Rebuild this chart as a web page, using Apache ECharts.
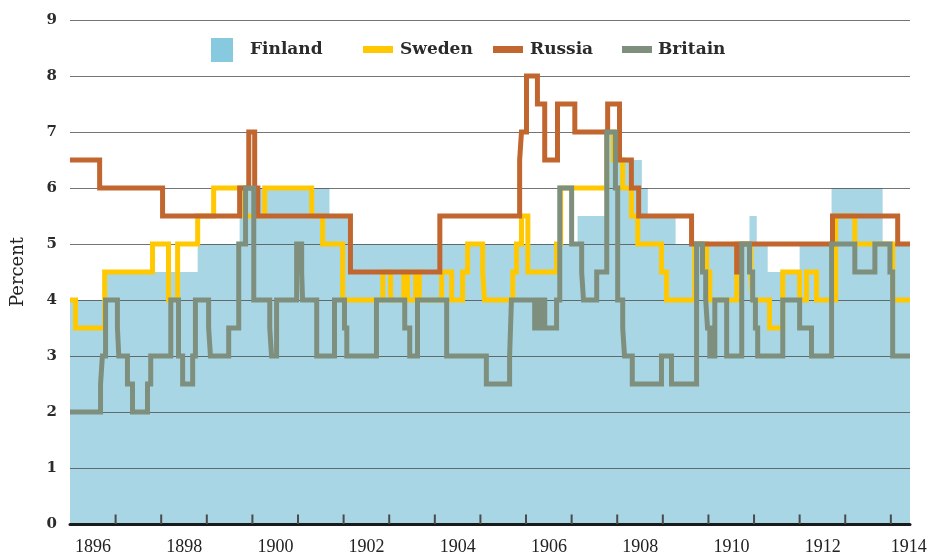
<!DOCTYPE html>
<html>
<head>
<meta charset="utf-8">
<script src="https://cdn.jsdelivr.net/npm/echarts@6/dist/echarts.min.js"></script>
<style>
  html, body { margin: 0; padding: 0; background: #fff; }
  #main { width: 931px; height: 560px; }
</style>
</head>
<body>
<div id="main"></div>
<script>
// central bank rates, [year, percent] at each change (step holds until next point)
var finland = [[1896,4.0],[1896.76,4.5],[1898.80,5.0],[1899.72,6.0],[1901.69,5.5],[1902.18,5.0],
  [1907.13,5.5],[1907.77,7.0],[1907.99,6.5],[1908.54,6.0],[1908.67,5.5],[1909.28,5.0],
  [1910.90,5.5],[1911.06,5.0],[1911.30,4.5],[1912.00,5.0],[1912.70,6.0],[1913.82,5.0],[1914.42,5.0]];

var sweden = [[1896,4.0],[1896.12,3.5],[1896.76,4.5],[1897.81,5.0],[1898.16,4.0],[1898.36,5.0],
  [1898.80,5.5],[1899.15,6.0],[1899.83,5.5],[1900.27,6.0],[1901.30,5.5],[1901.54,5.0],[1901.98,4.0],
  [1902.86,4.5],[1903.03,4.0],[1903.32,4.5],[1903.40,4.0],[1903.58,4.5],[1903.66,4.0],[1904.15,4.5],
  [1904.37,4.0],[1904.61,4.5],[1904.72,5.0],[1905.05,4.5],[1905.09,4.0],[1905.71,4.5],[1905.79,5.0],
  [1905.90,5.5],[1906.04,4.5],[1906.67,5.0],[1906.76,6.0],[1907.77,7.0],[1907.92,6.5],[1908.12,6.0],
  [1908.31,5.5],[1908.45,5.0],[1908.97,4.5],[1909.08,4.0],[1909.70,5.0],[1909.96,4.5],[1910.03,4.0],
  [1910.62,5.0],[1910.93,4.5],[1910.97,4.0],[1911.34,3.5],[1911.63,4.5],[1912.00,4.0],[1912.15,4.5],
  [1912.37,4.0],[1912.79,5.5],[1913.21,5.0],[1914.04,4.0],[1914.42,4.0]];

var russia = [[1896,6.5],[1896.65,6.0],[1898.03,5.5],[1899.72,6.0],[1899.92,7.0],[1900.05,6.0],
  [1900.12,5.5],[1902.15,4.5],[1904.11,5.5],[1905.86,6.5],[1905.90,7.0],[1906.01,8.0],[1906.25,7.5],
  [1906.41,6.5],[1906.69,7.5],[1907.07,7.0],[1907.79,7.5],[1908.05,6.5],[1908.31,6.0],[1908.47,5.5],
  [1909.63,5.0],[1910.62,4.5],[1910.68,5.0],[1912.72,5.5],[1914.15,5.0],[1914.42,5.0]];

var britain = [[1896,2.0],[1896.67,2.5],[1896.71,3.0],[1896.78,4.0],[1897.04,3.5],[1897.07,3.0],
  [1897.26,2.5],[1897.37,2.0],[1897.70,2.5],[1897.77,3.0],[1898.21,4.0],[1898.38,3.0],[1898.47,2.5],
  [1898.69,3.0],[1898.75,4.0],[1899.04,3.5],[1899.08,3.0],[1899.48,3.5],[1899.70,5.0],[1899.85,6.0],
  [1900.03,4.0],[1900.38,3.5],[1900.42,3.0],[1900.53,4.0],[1900.97,5.0],[1901.08,4.5],[1901.10,4.0],
  [1901.41,3.0],[1901.80,4.0],[1902.02,3.5],[1902.07,3.0],[1902.72,4.0],[1903.34,3.5],[1903.45,3.0],
  [1903.62,4.0],[1904.26,3.0],[1905.13,2.5],[1905.64,3.0],[1905.68,4.0],[1906.19,3.5],[1906.30,4.0],
  [1906.41,3.5],[1906.67,4.0],[1906.74,6.0],[1907.00,5.0],[1907.22,4.5],[1907.26,4.0],[1907.55,4.5],
  [1907.77,7.0],[1907.96,6.0],[1908.01,4.0],[1908.12,3.5],[1908.16,3.0],[1908.33,2.5],[1908.97,3.0],
  [1909.19,2.5],[1909.74,5.0],[1909.87,4.5],[1909.94,4.0],[1909.98,3.5],[1910.03,3.0],[1910.14,4.0],
  [1910.40,3.0],[1910.73,5.0],[1910.90,4.5],[1910.97,4.0],[1911.03,3.5],[1911.08,3.0],[1911.63,4.0],
  [1912.00,3.5],[1912.26,3.0],[1912.70,5.0],[1913.21,4.5],[1913.65,5.0],[1913.98,4.5],[1914.04,3.0],
  [1914.42,3.0]];

var xMin = 1896, xMax = 1914.42;
var yearTicks = [1897,1898,1899,1900,1901,1902,1903,1904,1905,1906,1907,1908,1909,1910,1911,1912,1913,1914];
var yearLabels = [1896,1898,1900,1902,1904,1906,1908,1910,1912,1914];
var tickLen = 0.17; // tick height in percent units (about 9px)

var myChart = echarts.init(document.getElementById('main'));

function lineSeries(name, data, color){
    return {
        name: name, type: 'line', step: 'end', data: data,
        symbol: 'none', z: 3,
        itemStyle: {color: color},
        lineStyle: {color: color, width: 5, join: 'miter', cap: 'butt'}
    };
}

var legendText = {fontFamily: 'DejaVu Serif', fontWeight: 'bold', fontSize: 17, color: '#2b2b2b'};
var xLabelFont = {fontFamily: 'Liberation Serif', fontSize: 18, color: '#222'};

var option = {
    backgroundColor: '#fff',
    animation: false,
    grid: {left: 70, right: 21, top: 20, bottom: 36, containLabel: false, outerBoundsMode: 'none'},
    legend: [
        {data: ['Finland'], left: 211, top: 38, padding: 0, itemWidth: 22, itemHeight: 24, icon: 'rect',
         textStyle: Object.assign({padding: [0,0,0,12]}, legendText)},
        {data: ['Sweden'], left: 363, top: 41, padding: 0, itemWidth: 30, itemHeight: 7, icon: 'rect',
         textStyle: Object.assign({padding: [0,0,0,2]}, legendText)},
        {data: ['Russia'], left: 493, top: 41, padding: 0, itemWidth: 30, itemHeight: 7, icon: 'rect',
         textStyle: Object.assign({padding: [0,0,0,2]}, legendText)},
        {data: ['Britain'], left: 622, top: 41, padding: 0, itemWidth: 30, itemHeight: 7, icon: 'rect',
         textStyle: Object.assign({padding: [0,0,0,1]}, legendText)}
    ],
    xAxis: {
        type: 'value', min: xMin, max: xMax, interval: 1, z: 4,
        axisLine: {show: true, onZero: false, lineStyle: {color: '#1a1a1a', width: 3}},
        axisTick: {show: false},
        axisLabel: {
            show: true, margin: 14, showMinLabel: true, showMaxLabel: true,
            formatter: function(v){
                if (yearLabels.indexOf(v) < 0) return '';
                // each label sits in the middle of its year; the last is pulled in to the edge
                return v === 1914 ? '{e|' + v + '}' : '{m|' + v + '}';
            },
            rich: {
                m: Object.assign({padding: [0,0,0,46]}, xLabelFont),
                e: Object.assign({padding: [0,0,0,36]}, xLabelFont)
            }
        },
        splitLine: {show: false}
    },
    yAxis: {
        type: 'value', min: 0, max: 9, interval: 1, z: 1.5,
        name: 'Percent', nameLocation: 'middle', nameRotate: 90, nameGap: 43,
        nameTextStyle: {fontFamily: 'DejaVu Serif', fontSize: 18, color: '#222'},
        axisLine: {show: false},
        axisTick: {show: false},
        axisLabel: {margin: 13, fontFamily: 'DejaVu Serif', fontWeight: 'bold', fontSize: 15, color: '#2b2b2b'},
        splitLine: {lineStyle: {color: 'rgba(70,70,70,0.75)', width: 1}}
    },
    series: [
        {
            name: 'Finland', type: 'line', step: 'end', data: finland,
            symbol: 'none', z: 1,
            itemStyle: {color: '#87c9df'},
            lineStyle: {width: 0},
            areaStyle: {color: '#a9d6e5', opacity: 1}
        },
        lineSeries('Sweden', sweden, '#ffc800'),
        lineSeries('Russia', russia, '#c1662e'),
        lineSeries('Britain', britain, '#7f8f7d'),
        {
            // year tick marks standing on the baseline
            name: 'ticks', type: 'bar', silent: true, z: 4,
            barWidth: 2, barMinHeight: 9,
            itemStyle: {color: '#4a4a4a'},
            data: yearTicks.map(function(y){ return [y, tickLen]; })
        }
    ]
};

myChart.setOption(option);
</script>
</body>
</html>
